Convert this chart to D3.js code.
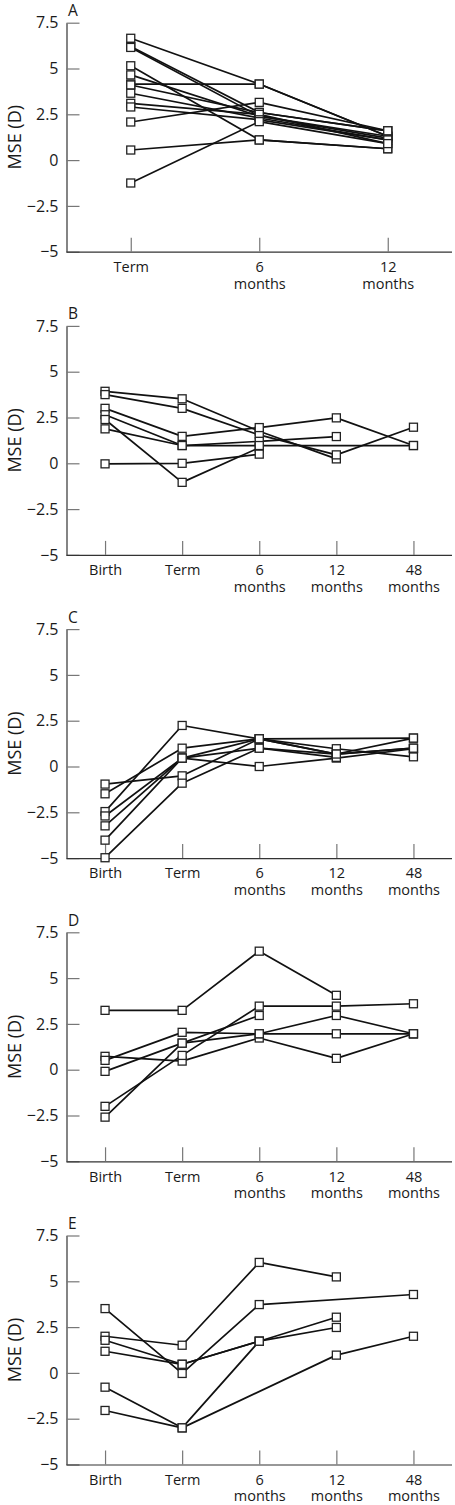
<!DOCTYPE html>
<html>
<head>
<meta charset="utf-8">
<script src="https://cdn.jsdelivr.net/npm/d3@7"></script>
<style>
  html, body { margin: 0; padding: 0; background: #fff; }
  svg { display: block; }
  text { font-family: "Open Sans", "Noto Sans", sans-serif; fill: #1a1a1a; }
</style>
</head>
<body>
<svg id="chart" width="455" height="1505"></svg>
<script>
// ---- data ----
const catsA = ["Term", "6 months", "12 months"];
const catsBE = ["Birth", "Term", "6 months", "12 months", "48 months"];
const yTicks = [-5, -2.5, 0, 2.5, 5, 7.5];
const panelLetters = ["A", "B", "C", "D", "E"];
const yTitle = "MSE (D)";

// each row = one subject, values in category order (null = not measured)
const seriesA = [
  [6.65, 4.15, 1.3],
  [6.2, 2.6, 1.6],
  [6.15, 2.4, 1.2],
  [5.15, 1.1, 0.62],
  [4.65, 2.4, 1.3],
  [4.15, 4.15, 1.3],
  [4.1, 2.6, 1.6],
  [3.65, 2.3, 1.1],
  [3.1, 2.5, 0.9],
  [2.9, 2.2, 1.1],
  [2.08, 3.15, 1.6],
  [0.55, 1.1, 0.62],
  [-1.25, 2.1, 0.9]
];
const seriesB = [
  [3.93, 3.52, 1.75, 0.24, null],
  [3.75, 3.0, 1.55, 0.46, 1.97],
  [3.0, 1.47, 1.95, 2.48, 0.97],
  [2.65, 0.97, 1.2, 1.46, null],
  [2.39, -1.04, 0.85, null, null],
  [1.88, 0.97, 0.97, null, 0.97],
  [-0.03, 0.0, 0.5, null, null]
];
const seriesC = [
  [-0.96, -0.51, 1.51, 0.68, 1.55],
  [-1.49, 1.0, 1.51, null, 1.55],
  [-2.46, 2.24, 1.51, 0.97, 0.53],
  [-2.7, 0.46, 0.0, 0.46, 0.97],
  [-3.24, 0.46, 1.51, 0.68, 1.0],
  [-4.02, 0.46, 1.0, 0.5, null],
  [-4.98, -0.91, 1.0, 0.68, 1.0]
];
const seriesD = [
  [3.24, 3.24, 6.47, 4.06, null],
  [0.73, 0.47, 1.73, 0.62, 1.96],
  [0.51, 2.04, 1.96, 1.96, 1.96],
  [-0.09, 1.45, 1.96, 2.96, 1.96],
  [-2.0, 0.78, 3.47, 3.47, 3.6],
  [-2.59, 1.45, 2.96, null, null]
];
const seriesE = [
  [2.0, 1.51, 6.03, 5.24, null],
  [3.51, -0.03, 3.73, null, 4.28],
  [1.78, 0.47, 1.73, 3.04, null],
  [1.18, 0.47, 1.73, 2.48, null],
  [-0.78, -3.0, 1.73, null, null],
  [-2.05, -3.0, null, 0.97, 2.0]
];

// ---- layout ----
const panels = [
  { letter: panelLetters[0], cats: catsA, series: seriesA },
  { letter: panelLetters[1], cats: catsBE, series: seriesB },
  { letter: panelLetters[2], cats: catsBE, series: seriesC },
  { letter: panelLetters[3], cats: catsBE, series: seriesD },
  { letter: panelLetters[4], cats: catsBE, series: seriesE }
];
const xLeft = 66.5, xRight = 452;
const firstTop = 22.7, step = 303.2, plotH = 229;
const mk = 8;

const svg = d3.select("#chart");

panels.forEach((p, i) => {
  const top = firstTop + i * step;
  const bottom = top + plotH;
  const g = svg.append("g");

  const x = d3.scalePoint().domain(p.cats).range([xLeft, xRight]).padding(0.5);
  const y = d3.scaleLinear().domain([-5, 7.5]).range([bottom, top]);

  // y axis
  const ya = g.append("g").attr("transform", `translate(${xLeft},0)`)
    .call(d3.axisLeft(y).tickValues(yTicks).tickSizeInner(-13).tickSizeOuter(0).tickPadding(8)
      .tickFormat(d3.format("")));
  ya.select(".domain").attr("stroke", "#333").attr("stroke-width", 1.2);
  ya.selectAll(".tick line").attr("stroke", "#777").attr("stroke-width", 1.2);
  ya.selectAll(".tick text").attr("font-size", 16).attr("fill", "#1a1a1a")
    .attr("font-family", "\"Open Sans\", sans-serif");

  // x axis
  const xa = g.append("g").attr("transform", `translate(0,${bottom})`)
    .call(d3.axisBottom(x).tickSizeInner(-14).tickSizeOuter(0).tickPadding(10));
  xa.select(".domain").attr("stroke", "#333").attr("stroke-width", 1.2)
    .attr("d", `M${xLeft},0.5H${xRight}`);
  xa.selectAll(".tick line").attr("stroke", "#777").attr("stroke-width", 1.2);
  xa.selectAll(".tick text").each(function(d) {
    const t = d3.select(this).text("").attr("font-size", 14.5).attr("fill", "#1a1a1a")
      .attr("font-family", "\"Open Sans\", sans-serif");
    const parts = d.split(" ");
    parts.forEach((s, k) => {
      t.append("tspan").attr("x", 0).attr("dy", k === 0 ? "0.71em" : "1.15em").text(s);
    });
  });

  // y title
  g.append("text")
    .attr("transform", `translate(${14},${(top + bottom) / 2}) rotate(-90)`)
    .attr("text-anchor", "middle").attr("dominant-baseline", "central")
    .attr("font-size", 18).text(yTitle);

  // panel letter
  g.append("text").attr("x", 68).attr("y", top - 6.5)
    .attr("font-size", 15.5).text(p.letter);

  // lines
  const line = d3.line().x(d => x(d.c)).y(d => y(d.v));
  const rows = p.series.map(r => r.map((v, k) => ({ c: p.cats[k], v })).filter(d => d.v != null));
  g.append("g").selectAll("path").data(rows).join("path")
    .attr("d", line).attr("fill", "none").attr("stroke", "#111").attr("stroke-width", 1.7)
    .attr("stroke-linejoin", "round");

  // markers
  g.append("g").selectAll("rect").data(rows.flat()).join("rect")
    .attr("x", d => x(d.c) - mk / 2).attr("y", d => y(d.v) - mk / 2)
    .attr("width", mk).attr("height", mk)
    .attr("fill", "#fff").attr("stroke", "#222").attr("stroke-width", 1.3);
});
</script>
</body>
</html>
